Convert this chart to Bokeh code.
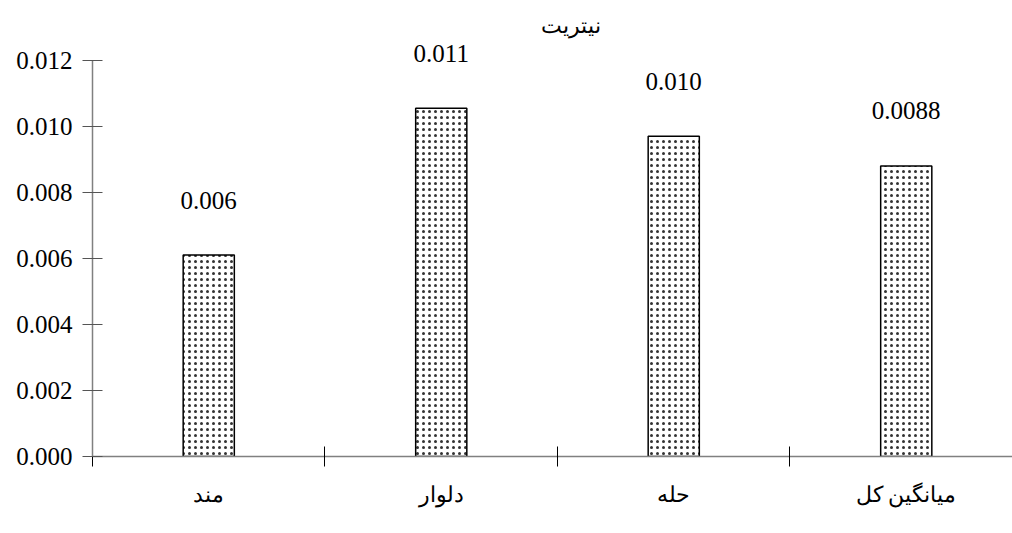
from bokeh.plotting import figure
from bokeh.models import Range1d, FixedTicker, NumeralTickFormatter, ColumnDataSource, Title
from bokeh.embed import file_html
from bokeh.resources import INLINE
from bokeh.core.properties import value

categories = ["مند", "دلوار", "حله", "میانگین کل"]
values = [0.0061, 0.01055, 0.0097, 0.0088]
value_labels = ["0.006", "0.011", "0.010", "0.0088"]
y_ticks = [0.0, 0.002, 0.004, 0.006, 0.008, 0.010, 0.012]
title_text = "نیتریت"

xs = [i + 0.5 for i in range(len(categories))]
src = ColumnDataSource(dict(x=xs, top=values, lab=value_labels))

p = figure(width=1012, height=533, output_backend="svg", toolbar_location=None,
           x_range=Range1d(0, 3.957), y_range=Range1d(0, 0.0126),
           min_border_left=92, min_border_right=0, min_border_bottom=77, min_border_top=40)
p.title = None
p.add_layout(Title(text=title_text, align="left", offset=448, standoff=6,
                   text_font="Liberation Serif", text_font_size="22px",
                   text_font_style="normal", text_color="black"), "above")

p.vbar(x="x", top="top", bottom=0, width=0.22, source=src, fill_color="white",
       line_color="black", line_width=1.5, hatch_pattern="dot", hatch_color="#333333",
       hatch_scale=6, hatch_weight=0.7)
p.text(x="x", y="top", text="lab", source=src, y_offset=-55, text_align="center",
       text_baseline="middle", text_font=value("Liberation Serif"), text_font_size="25px",
       text_color="black")

p.grid.visible = False
p.outline_line_color = None

xa = p.xaxis[0]
xa.ticker = FixedTicker(ticks=xs, minor_ticks=list(range(len(categories))))
xa.major_label_overrides = {x: c for x, c in zip(xs, categories)}
xa.major_tick_in = 0
xa.major_tick_out = 0
xa.minor_tick_in = 10
xa.minor_tick_out = 10
xa.minor_tick_line_color = "black"
xa.axis_line_color = "#808080"
xa.axis_line_width = 1.5
xa.major_label_standoff = 15
xa.major_label_text_font = "Liberation Serif"
xa.major_label_text_font_size = "22px"
xa.major_label_text_color = "black"

ya = p.yaxis[0]
ya.ticker = FixedTicker(ticks=y_ticks)
ya.formatter = NumeralTickFormatter(format="0.000")
ya.bounds = (0, 0.012)
ya.major_tick_in = 10
ya.major_tick_out = 10
ya.minor_tick_line_color = None
ya.major_tick_line_color = "#555555"
ya.axis_line_color = "#808080"
ya.axis_line_width = 1.5
ya.major_label_standoff = 10
ya.major_label_text_font = "Liberation Serif"
ya.major_label_text_font_size = "25px"
ya.major_label_text_color = "black"

open("out.html", "w").write(file_html(p, INLINE))
